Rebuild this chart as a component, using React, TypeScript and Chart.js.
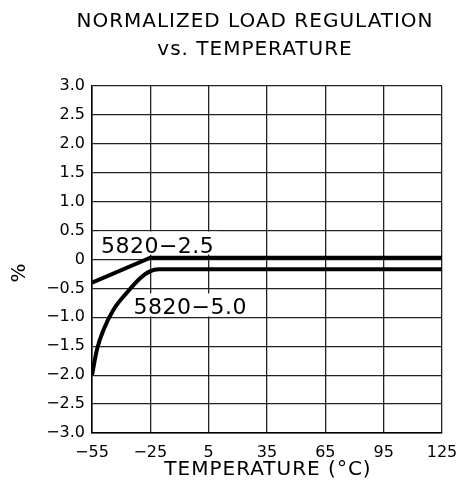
import React, { useEffect, useRef } from "react";
import { Chart, registerables } from "chart.js";

Chart.register(...registerables);

const titleLines = ["NORMALIZED LOAD REGULATION", "vs. TEMPERATURE"];
const xAxisTitle = "TEMPERATURE (°C)";
const yAxisTitle = "%";

const xTicks = [-55, -25, 5, 35, 65, 95, 125];
const yTicks = [3.0, 2.5, 2.0, 1.5, 1.0, 0.5, 0, -0.5, -1.0, -1.5, -2.0, -2.5, -3.0];

const series25Name = "5820−2.5";
const series25X = [-55, -25, 125];
const series25Y = [-0.4, 0.03, 0.03];

const series50Name = "5820−5.0";
const series50X = [-55, -52.4, -49, -43.8, -37, -30.1, -25, -20.6, -18, 125];
const series50Y = [-2.0, -1.55, -1.21, -0.86, -0.57, -0.32, -0.2, -0.17, -0.17, -0.17];

// label anchors (left x, baseline y) in data units
const label25Pos = [-50.4, 0.12];
const label50Pos = [-33.6, -0.95];

const FONT = "'DejaVu Sans', sans-serif";

function fmtY(v: number): string {
  if (v === 0) return "0";
  const s = Math.abs(v).toFixed(1);
  return (v < 0 ? "−" : "") + s;
}
function fmtX(v: number): string {
  return (v < 0 ? "−" : "") + Math.abs(v);
}

const LABEL_FONT = `22px ${FONT}`;

const textPlugin = {
  id: "textPlugin",
  beforeDatasetsDraw(chart: any) {
    const ctx = chart.ctx;
    const xs = chart.scales.x;
    const ys = chart.scales.y;
    ctx.save();
    ctx.font = LABEL_FONT;
    (ctx as any).letterSpacing = "0.5px";
    const boxes = [
      [series25Name, label25Pos],
      [series50Name, label50Pos],
    ] as [string, number[]][];
    for (const [t, p] of boxes) {
      const px = xs.getPixelForValue(p[0]);
      const py = ys.getPixelForValue(p[1]);
      const w = ctx.measureText(t).width;
      ctx.fillStyle = "#fff";
      ctx.fillRect(px - 3, py - 21, w + 6, 23);
    }
    ctx.restore();
  },
  afterDraw(chart: any) {
    const ctx = chart.ctx;
    const xs = chart.scales.x;
    const ys = chart.scales.y;
    ctx.save();
    ctx.fillStyle = "#000";
    ctx.textBaseline = "alphabetic";
    // title
    ctx.font = `20px ${FONT}`;
    ctx.textAlign = "center";
    (ctx as any).letterSpacing = "1px";
    ctx.fillText(titleLines[0], 255, 27);
    ctx.fillText(titleLines[1], 255, 55);
    // x axis title
    ctx.fillText(xAxisTitle, 268, 475);
    (ctx as any).letterSpacing = "0px";
    // y axis title
    ctx.save();
    ctx.translate(20, 273);
    ctx.rotate(-Math.PI / 2);
    ctx.font = `20px ${FONT}`;
    ctx.textAlign = "center";
    ctx.textBaseline = "middle";
    ctx.fillText(yAxisTitle, 0, 0);
    ctx.restore();
    // series labels
    ctx.font = LABEL_FONT;
    (ctx as any).letterSpacing = "0.5px";
    ctx.textAlign = "left";
    const labels = [
      [series25Name, label25Pos],
      [series50Name, label50Pos],
    ] as [string, number[]][];
    for (const [t, p] of labels) {
      ctx.fillText(t, xs.getPixelForValue(p[0]), ys.getPixelForValue(p[1]));
    }
    ctx.restore();
  },
};

export default function App() {
  const ref = useRef<HTMLCanvasElement | null>(null);
  useEffect(() => {
    document.body.style.margin = "0";
    if (!ref.current) return;
    const chart = new Chart(ref.current, {
      type: "line",
      data: {
        datasets: [
          {
            label: series25Name,
            data: series25X.map((x, i) => ({ x, y: series25Y[i] })),
            borderColor: "#000",
            borderWidth: 4,
            pointRadius: 0,
            fill: false,
            tension: 0,
          },
          {
            label: series50Name,
            data: series50X.map((x, i) => ({ x, y: series50Y[i] })),
            borderColor: "#000",
            borderWidth: 4,
            pointRadius: 0,
            fill: false,
            cubicInterpolationMode: "monotone",
          },
        ],
      },
      options: {
        animation: false,
        responsive: false,
        events: [],
        layout: { padding: { left: 0, right: 14, top: 86, bottom: 0 } },
        plugins: {
          legend: { display: false },
          title: { display: false },
          tooltip: { enabled: false },
        },
        scales: {
          x: {
            type: "linear",
            min: -55,
            max: 125,
            afterBuildTicks(scale: any) {
              scale.ticks = xTicks.map((v) => ({ value: v }));
            },
            afterFit(scale: any) {
              scale.height = 54;
              scale.paddingLeft = 0;
              scale.paddingRight = 0;
            },
            ticks: {
              autoSkip: false,
              maxRotation: 0,
              padding: 10,
              color: "#000",
              font: { family: FONT, size: 16 },
              callback: (v: any) => fmtX(Number(v)),
            },
            grid: { color: "#222", lineWidth: 1.3, drawTicks: false },
            border: { color: "#000", width: 1.5 },
          },
          y: {
            type: "linear",
            min: -3,
            max: 3,
            afterBuildTicks(scale: any) {
              scale.ticks = yTicks.map((v) => ({ value: v }));
            },
            afterFit(scale: any) {
              scale.width = 92;
              scale.paddingTop = 0;
              scale.paddingBottom = 0;
            },
            ticks: {
              autoSkip: false,
              padding: 7,
              color: "#000",
              font: { family: FONT, size: 16 },
              callback: (v: any) => fmtY(Number(v)),
            },
            grid: { color: "#222", lineWidth: 1.3, drawTicks: false },
            border: { color: "#000", width: 1.5 },
          },
        },
      },
      plugins: [textPlugin],
    } as any);
    return () => chart.destroy();
  }, []);
  return (
    <div style={{ position: "absolute", left: 0, top: 0, width: 456, height: 487, background: "#fff" }}>
      <canvas ref={ref} width={456} height={487} style={{ display: "block" }} />
    </div>
  );
}
